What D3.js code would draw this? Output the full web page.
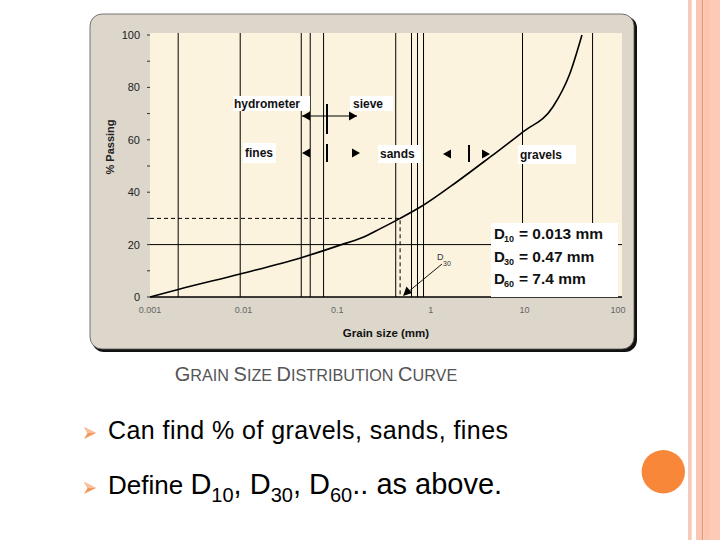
<!DOCTYPE html>
<html><head><meta charset="utf-8">
<script src="https://cdn.jsdelivr.net/npm/d3@7"></script>
<style>body{margin:0;background:#fff}svg{display:block}</style>
</head><body><svg id="c" width="720" height="540"></svg>
<script>
// ---- data ----
const grainSize = [0.001, 0.002, 0.0092, 0.0413, 0.0715, 0.107, 0.18, 0.286, 0.47, 0.83, 1.89, 4.29, 9.66, 20.2, 30.7, 41.2];
const passing   = [0, 2.9, 8.8, 15.0, 17.7, 19.8, 22.5, 26.0, 30.0, 35.0, 43.9, 53.4, 63.0, 72.6, 85.4, 100];
const gridSizes = [0.002, 0.0092, 0.0413, 0.0515, 0.0715, 0.422, 0.622, 0.721, 0.836, 9.55, 53.5];
const xTickValues = [0.001, 0.01, 0.1, 1, 10, 100];
const xTickLabels = ["0.001", "0.01", "0.1", "1", "10", "100"];
const yTickValues = [0, 20, 40, 60, 80, 100];
const yMinorTicks = [10, 30, 50, 70, 90];
const dNames = ["10", "30", "60"];
const dTexts = ["= 0.013 mm", "= 0.47 mm", "= 7.4 mm"];
const d30Size = 0.47, d30Pass = 30, refLinePass = 20;

const svg = d3.select("#c");
const FONT = "Arial, 'Liberation Sans', sans-serif";
const xs = d3.scaleLog().domain([0.001, 100]).range([150, 618]);
const ys = d3.scaleLinear().domain([0, 100]).range([297, 35]);

// ---- right decoration ----
const stripes = [[688,3.7,"#f7c9b7"],[696,5.7,"#fcc6b2"],[701.7,1.6,"#e99773"],[703.3,6.7,"#fcc5b0"],[710,10,"#fdcab8"]];
stripes.forEach(s => svg.append("rect").attr("x", s[0]).attr("y", 0).attr("width", s[1]).attr("height", 540).attr("fill", s[2]));
svg.append("circle").attr("cx", 663.3).attr("cy", 471.7).attr("r", 21.7).attr("fill", "#f8873a");

// ---- panel ----
svg.append("rect").attr("x", 92).attr("y", 16).attr("width", 545).attr("height", 336).attr("rx", 12).attr("fill", "#111");
svg.append("rect").attr("x", 90).attr("y", 14).attr("width", 544).attr("height", 335).attr("rx", 12)
  .attr("fill", "#dcd6cb").attr("stroke", "#555").attr("stroke-width", 0.8);
svg.append("rect").attr("x", xs(0.001)).attr("y", 33).attr("width", xs(100) + 4 - xs(0.001)).attr("height", ys(0) - 33)
  .attr("fill", "#fcf3df");

// ---- grid ----
svg.append("g").selectAll("line").data(gridSizes).join("line")
  .attr("x1", d => xs(d)).attr("x2", d => xs(d)).attr("y1", 33).attr("y2", ys(0))
  .attr("stroke", "#000").attr("stroke-width", 1);
svg.append("line").attr("x1", xs(0.001)).attr("x2", xs(100) + 4).attr("y1", ys(refLinePass)).attr("y2", ys(refLinePass))
  .attr("stroke", "#000").attr("stroke-width", 1);
// dashed D30 guide
svg.append("path").attr("d", `M${xs(0.001)},${ys(d30Pass)}H${xs(d30Size)}V${ys(0)}`)
  .attr("fill", "none").attr("stroke", "#000").attr("stroke-width", 1).attr("stroke-dasharray", "4,3");

// ---- axes ----
svg.append("line").attr("x1", xs(0.001)).attr("x2", xs(100) + 4).attr("y1", ys(0)).attr("y2", ys(0)).attr("stroke", "#000").attr("stroke-width", 1.5);
svg.append("g").selectAll("line").data(yTickValues.concat(yMinorTicks)).join("line")
  .attr("x1", xs(0.001) - 3).attr("x2", xs(0.001)).attr("y1", d => ys(d)).attr("y2", d => ys(d)).attr("stroke", "#333");
svg.append("g").selectAll("text").data(yTickValues).join("text")
  .attr("x", 140).attr("y", d => ys(d) + 4).attr("text-anchor", "end")
  .attr("font-family", FONT).attr("font-size", 11).attr("fill", "#222").text(d => d);
svg.append("g").selectAll("text").data(xTickValues).join("text")
  .attr("x", d => xs(d)).attr("y", 313).attr("text-anchor", "middle")
  .attr("font-family", FONT).attr("font-size", 9).attr("fill", "#666").text((d, i) => xTickLabels[i]);
svg.append("text").attr("transform", "translate(114,147) rotate(-90)").attr("text-anchor", "middle")
  .attr("font-family", FONT).attr("font-size", 11).attr("font-weight", "bold").attr("fill", "#222").text("% Passing");
svg.append("text").attr("x", 386).attr("y", 337).attr("text-anchor", "middle")
  .attr("font-family", FONT).attr("font-size", 11.5).attr("font-weight", "bold").attr("fill", "#111").text("Grain size (mm)");

// ---- curve ----
const pts = grainSize.map((g, i) => [xs(g), ys(passing[i])]);
svg.append("path").attr("d", d3.line().curve(d3.curveMonotoneX)(pts))
  .attr("fill", "none").attr("stroke", "#000").attr("stroke-width", 1.6);

// ---- labels with white boxes ----
function label(txt, x0, x1, y0, y1, tx) {
  svg.append("rect").attr("x", x0).attr("y", y0).attr("width", x1 - x0).attr("height", y1 - y0).attr("fill", "#fff");
  svg.append("text").attr("x", tx).attr("y", (y0 + y1) / 2 + 4).attr("font-family", FONT).attr("font-size", 12)
    .attr("font-weight", "bold").attr("fill", "#111").text(txt);
}
label("hydrometer", 233, 310, 96, 111, 234);
label("sieve", 350, 393, 96, 111, 353);
label("fines", 243, 276, 143, 163, 245);
label("sands", 378, 421, 145, 163, 380);
label("gravels", 518, 576, 145, 164, 520);

function tri(tip, y, dir) {
  const b = tip - dir * 8;
  svg.append("path").attr("d", `M${tip},${y}L${b},${y - 4.5}L${b},${y + 4.5}Z`).attr("fill", "#000");
}
// hydrometer / sieve
svg.append("line").attr("x1", 302).attr("x2", 357).attr("y1", 116).attr("y2", 116).attr("stroke", "#000").attr("stroke-width", 1.2);
tri(302, 116, -1); tri(357, 116, 1);
svg.append("line").attr("x1", 327).attr("x2", 327).attr("y1", 104).attr("y2", 134).attr("stroke", "#000").attr("stroke-width", 2);
// fines / sands
tri(302, 153, -1); tri(360, 153, 1);
svg.append("line").attr("x1", 327).attr("x2", 327).attr("y1", 144).attr("y2", 162).attr("stroke", "#000").attr("stroke-width", 2);
// sands / gravels
tri(443, 154, -1); tri(490, 154, 1);
svg.append("line").attr("x1", 469).attr("x2", 469).attr("y1", 145).attr("y2", 162).attr("stroke", "#000").attr("stroke-width", 2);

// D30 pointer
svg.append("text").attr("x", 437).attr("y", 260).attr("font-family", FONT).attr("font-size", 9).attr("fill", "#333").text("D");
svg.append("text").attr("x", 443).attr("y", 266).attr("font-family", FONT).attr("font-size", 7).attr("fill", "#333").text("30");
svg.append("line").attr("x1", 442).attr("y1", 264).attr("x2", 408).attr("y2", 292).attr("stroke", "#000").attr("stroke-width", 0.9);
svg.append("path").attr("d", "M403,296L406.5,286.5L412,293Z").attr("fill", "#000");

// D box
svg.append("rect").attr("x", 491).attr("y", 223).attr("width", 127).attr("height", 74).attr("fill", "#fff");
const dBase = [239, 262, 284];
dNames.forEach((n, i) => {
  svg.append("text").attr("x", 494).attr("y", dBase[i]).attr("font-family", FONT).attr("font-size", 15)
    .attr("font-weight", "bold").attr("fill", "#111").text("D");
  svg.append("text").attr("x", 504).attr("y", dBase[i] + 3).attr("font-family", FONT).attr("font-size", 9)
    .attr("font-weight", "bold").attr("fill", "#111").text(n);
  svg.append("text").attr("x", 519).attr("y", dBase[i]).attr("font-family", FONT).attr("font-size", 15.5)
    .attr("font-weight", "bold").attr("fill", "#111").text(dTexts[i]);
});

// ---- caption ----
const cap = svg.append("text").attr("x", 316).attr("y", 381).attr("text-anchor", "middle")
  .attr("font-family", FONT).attr("fill", "#555");
[["G",20],["RAIN ",16.2],["S",20],["IZE ",16.2],["D",20],["ISTRIBUTION ",16.2],["C",20],["URVE",16.2]]
  .forEach(p => cap.append("tspan").attr("font-size", p[1]).text(p[0]));

// ---- bullets ----
[433, 488].forEach(y => {
  svg.append("path").attr("d", `M84,${y - 6}L96,${y}L84,${y + 6}L87.5,${y}Z`).attr("fill", "#f29a5e");
  svg.append("path").attr("d", `M84,${y - 6}L96,${y}L87.5,${y}Z`).attr("fill", "#f7c09a");
});
svg.append("text").attr("x", 108).attr("y", 439).attr("font-family", FONT).attr("font-size", 25).attr("fill", "#000")
  .attr("textLength", 400).attr("lengthAdjust", "spacing").text("Can find % of gravels, sands, fines");
const l2 = svg.append("text").attr("x", 108).attr("y", 494).attr("font-family", FONT).attr("fill", "#000");
l2.append("tspan").attr("font-size", 26).text("Define ");
const parts = [["D",29],["10",20,8],[", ",29,-8],["D",29],["30",20,8],[", ",29,-8],["D",29],["60",20,8],[".. as above.",29,-8]];
parts.forEach(p => l2.append("tspan").attr("font-size", p[1]).attr("dy", p[2] || 0).text(p[0]));
</script></body></html>
